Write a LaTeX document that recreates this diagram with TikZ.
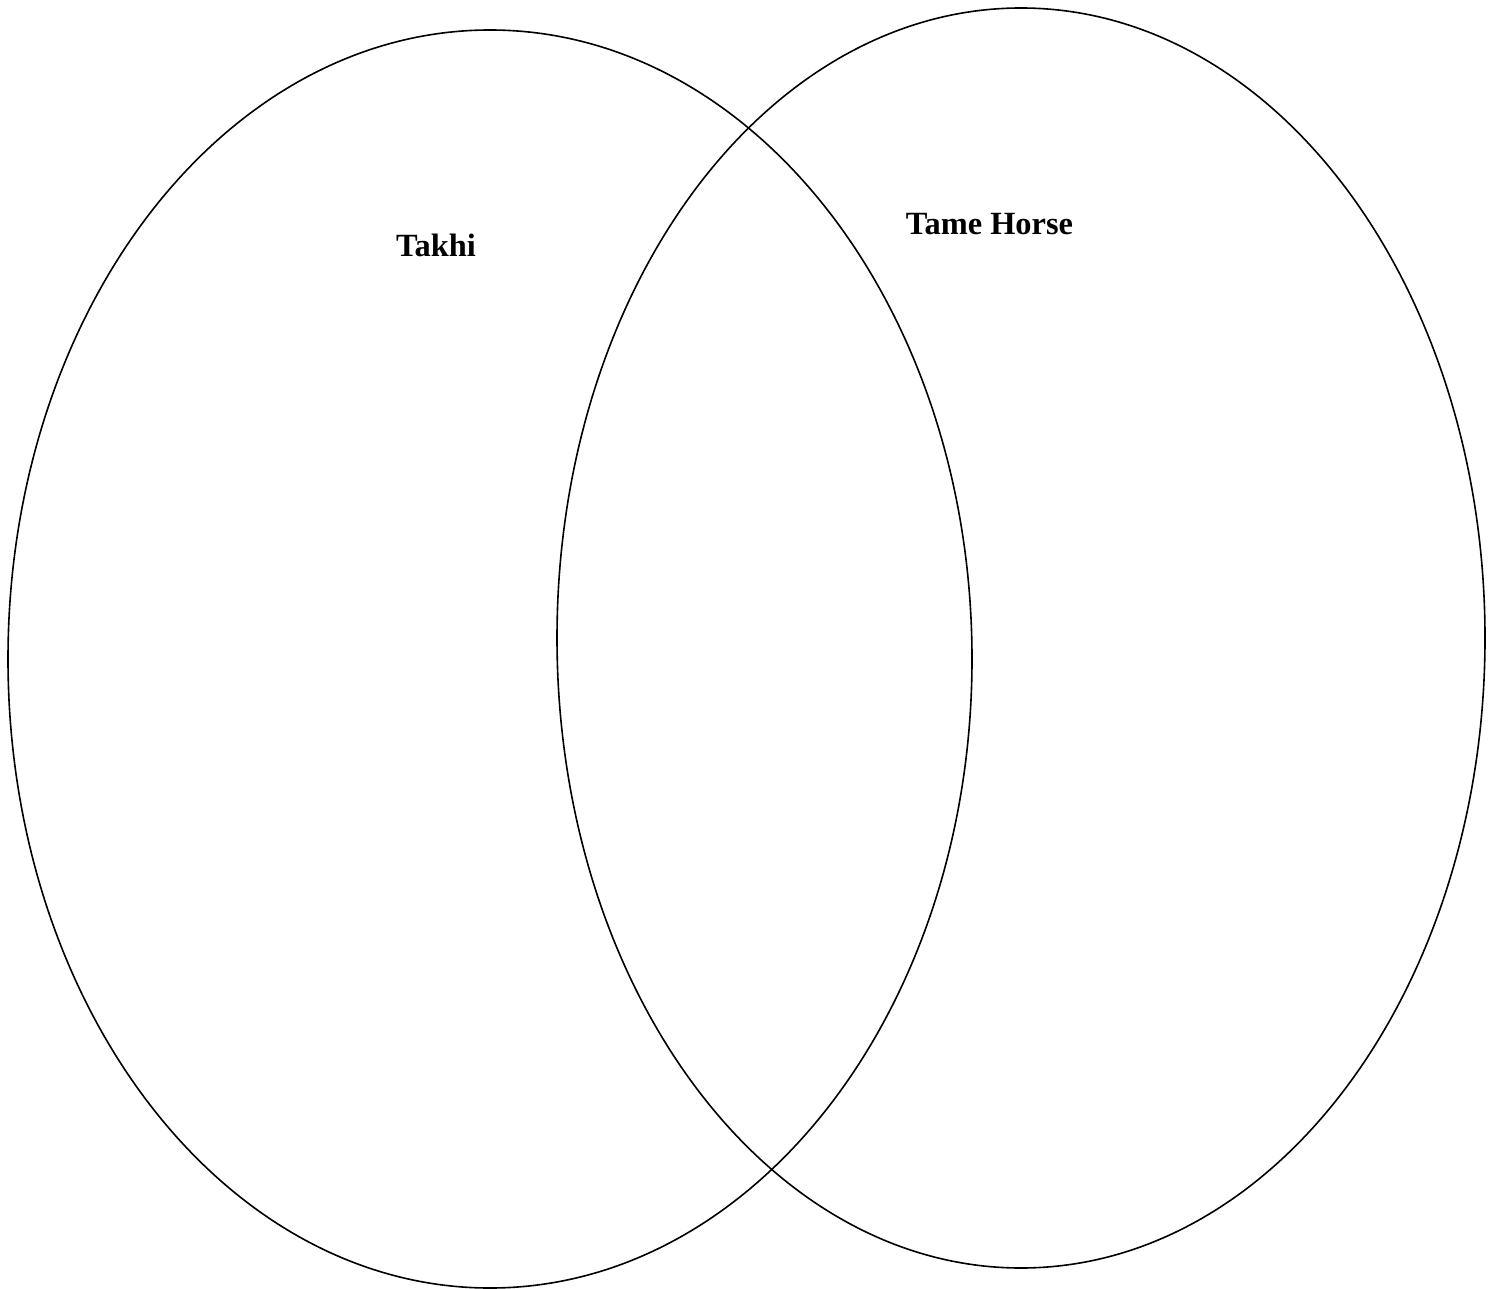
\documentclass[tikz,border=0pt]{standalone}
\usepackage{fontspec}
\setmainfont{Liberation Serif}
\begin{document}
\begin{tikzpicture}[x=1pt,y=-1pt,
  circ/.style={line width=1.6pt, draw=black},
  lbl/.style={font=\bfseries\fontsize{32.4}{38}\selectfont, anchor=base, inner sep=0pt}]
\useasboundingbox (0,0) rectangle (1490,1289);
\draw[circ] (490,659) ellipse [x radius=482pt, y radius=629pt];
\draw[circ] (1021,638) ellipse [x radius=464pt, y radius=630pt];
\node[lbl] (takhi) at (436,257) {Takhi};
\node[lbl] (tame) at (989.5,235) {Tame Horse};
\end{tikzpicture}
\end{document}
